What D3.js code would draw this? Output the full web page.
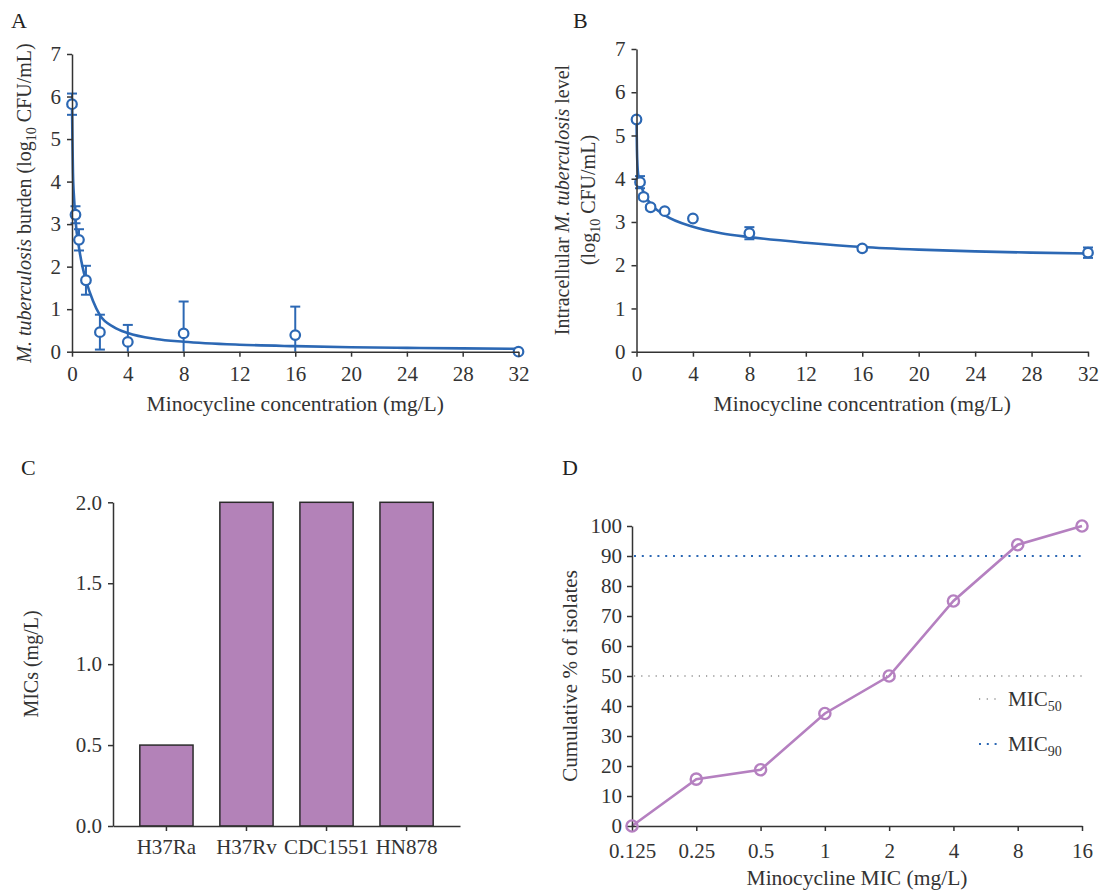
<!DOCTYPE html>
<html>
  <head>
    <meta charset="utf-8">
    <title>Minocycline activity against M. tuberculosis</title>
    <script src="https://cdn.jsdelivr.net/npm/d3@7"></script>
    <style>
      body { margin: 0; background: #fff; }
      svg { display: block; }
    </style>
  </head>
  <body>
    <svg></svg>
    <script>
      // panel A: extracellular burden
      let aConc = [0, 0.25, 0.5, 1, 2, 4, 8, 16, 32];
      let aMean = [5.82, 3.22, 2.63, 1.68, 0.46, 0.23, 0.43, 0.39, 0.0];
      let aSd   = [0.25, 0.20, 0.25, 0.34, 0.41, 0.40, 0.75, 0.67, 0];
      let aFitX = [0, 0.03, 0.07, 0.15, 0.25, 0.5, 0.75, 1, 1.5, 2, 3, 4, 6, 8, 12, 16, 20, 24, 28, 32];
      let aFitY = [5.85, 5.0, 4.2, 3.6, 3.1, 2.45, 2.0, 1.68, 1.2, 0.86, 0.58, 0.44, 0.3, 0.235, 0.165, 0.13, 0.105, 0.09, 0.078, 0.068];

      // panel B: intracellular level
      let bConc = [0, 0.25, 0.5, 1, 2, 4, 8, 16, 32];
      let bMean = [5.37, 3.92, 3.58, 3.34, 3.25, 3.08, 2.74, 2.39, 2.29];
      let bSd   = [0.03, 0.14, 0.06, 0.05, 0.03, 0.03, 0.14, 0.05, 0.12];
      let bFitX = [0, 0.03, 0.07, 0.12, 0.25, 0.5, 1, 2, 4, 6, 8, 12, 16, 20, 24, 28, 32];
      let bFitY = [5.38, 4.7, 4.3, 4.1, 3.93, 3.68, 3.42, 3.16, 2.89, 2.74, 2.65, 2.52, 2.42, 2.36, 2.32, 2.29, 2.27];

      // panel C: MICs of strains
      let strains = ["H37Ra", "H37Rv", "CDC1551", "HN878"];
      let strainMic = [0.5, 2, 2, 2];

      // panel D: cumulative distribution
      let micLevels = ["0.125", "0.25", "0.5", "1", "2", "4", "8", "16"];
      let cumPct = [0, 15.625, 18.75, 37.5, 50, 75, 93.75, 100];
      let micRefs = [50, 90];

      let font = `"Liberation Serif", "Times New Roman", serif`;
      let ink = "#333";
      let blue = "#2c68b4";
      let purple = "#b580c0";
      let barFill = "#b382b8";
      let fs = 21;

      let svg = d3.select("svg").attr("width", 1100).attr("height", 891)
                  .style("font-family", font);

      let styleAxis = g => {
        g.select(".domain").attr("stroke", ink).attr("stroke-width", 1.5);
        g.selectAll(".tick line").attr("stroke", ink).attr("stroke-width", 1.5);
        g.selectAll(".tick text").attr("fill", ink).attr("font-size", fs)
         .attr("font-family", font);
      };

      let panelLabel = (t, x, y) => {
        svg.append("text").attr("x", x).attr("y", y).attr("font-size", 22)
           .attr("fill", "#222").text(t);
      };

      // rich text helper: parts = [[text, style]] style: "i" italic, "sub" subscript
      let richText = (sel, parts) => {
        let shift = 0;
        parts.forEach(([t, s]) => {
          let ts = sel.append("tspan").text(t);
          if (s === "i") ts.attr("font-style", "italic");
          if (s === "sub") { ts.attr("font-size", 14).attr("dy", 5); shift = 5; }
          else if (shift) { ts.attr("dy", -shift); shift = 0; }
        });
      };

      function drawCurvePanel(opt) {
        let x = d3.scaleLinear().domain([0, 32]).range(opt.xr);
        let y = d3.scaleLinear().domain([0, 7]).range(opt.yr);
        let g = svg.append("g");

        let line = d3.line().x(d => x(d[0])).y(d => y(d[1])).curve(d3.curveMonotoneX);
        g.append("path")
         .datum(d3.zip(opt.fitX, opt.fitY))
         .attr("d", line)
         .attr("fill", "none").attr("stroke", blue).attr("stroke-width", 2.6);

        let pts = opt.conc.map((c, i) => ({c, m: opt.mean[i], sd: opt.sd[i]}));
        let err = g.selectAll(".err").data(pts.filter(d => d.sd > 0)).enter().append("g")
                   .attr("stroke", blue).attr("stroke-width", 2);
        err.append("line")
           .attr("x1", d => x(d.c)).attr("x2", d => x(d.c))
           .attr("y1", d => y(Math.max(0, d.m - d.sd))).attr("y2", d => y(d.m + d.sd));
        err.append("line")
           .attr("x1", d => x(d.c) - 5).attr("x2", d => x(d.c) + 5)
           .attr("y1", d => y(d.m + d.sd)).attr("y2", d => y(d.m + d.sd));
        err.filter(d => d.m - d.sd >= 0).append("line")
           .attr("x1", d => x(d.c) - 5).attr("x2", d => x(d.c) + 5)
           .attr("y1", d => y(d.m - d.sd)).attr("y2", d => y(d.m - d.sd));

        g.selectAll(".pt").data(pts).enter().append("circle")
         .attr("cx", d => x(d.c)).attr("cy", d => y(d.m)).attr("r", 4.8)
         .attr("fill", "#fff").attr("stroke", blue).attr("stroke-width", 2.2);

        g.append("g").attr("transform", `translate(0,${opt.yr[0]})`)
         .call(d3.axisBottom(x).tickValues(d3.range(0, 33, 4)).tickSize(5).tickPadding(9).tickSizeOuter(0))
         .call(styleAxis);
        g.append("g").attr("transform", `translate(${opt.xr[0]},0)`)
         .call(d3.axisLeft(y).ticks(7).tickSize(5).tickPadding(6).tickSizeOuter(0))
         .call(styleAxis);

        g.append("text").attr("x", (opt.xr[0] + opt.xr[1]) / 2).attr("y", 411)
         .attr("text-anchor", "middle").attr("font-size", 21.5).attr("fill", ink)
         .text("Minocycline concentration (mg/L)");
        return {x, y, g};
      }

      // ---- A
      panelLabel("A", 11, 28);
      drawCurvePanel({xr: [72, 518.5], yr: [351.7, 54], conc: aConc, mean: aMean, sd: aSd, fitX: aFitX, fitY: aFitY});
      let tA = svg.append("text").attr("transform", "translate(31,203) rotate(-90)")
                  .attr("text-anchor", "middle").attr("font-size", 20).attr("fill", ink);
      richText(tA, [["M. tuberculosis", "i"], [" burden (log"], ["10", "sub"], [" CFU/mL)"]]);

      // ---- B
      panelLabel("B", 573, 28);
      drawCurvePanel({xr: [636.5, 1088], yr: [351.7, 49], conc: bConc, mean: bMean, sd: bSd, fitX: bFitX, fitY: bFitY});
      let tB1 = svg.append("text").attr("transform", "translate(569,200) rotate(-90)")
                   .attr("text-anchor", "middle").attr("font-size", 20).attr("fill", ink);
      richText(tB1, [["Intracellular "], ["M. tuberculosis", "i"], [" level"]]);
      let tB2 = svg.append("text").attr("transform", "translate(595,200) rotate(-90)")
                   .attr("text-anchor", "middle").attr("font-size", 20).attr("fill", ink);
      richText(tB2, [["(log"], ["10", "sub"], [" CFU/mL)"]]);

      // ---- C
      panelLabel("C", 21, 475);
      let xC = d3.scaleBand().domain(strains).range([113, 460]).padding(0.335);
      let yC = d3.scaleLinear().domain([0, 2]).range([826, 502.3]);
      let gC = svg.append("g");
      gC.selectAll("rect").data(strains).enter().append("rect")
        .attr("x", d => xC(d)).attr("width", xC.bandwidth())
        .attr("y", (d, i) => yC(strainMic[i])).attr("height", (d, i) => yC(0) - yC(strainMic[i]))
        .attr("fill", barFill).attr("stroke", "#2b2b2b").attr("stroke-width", 1.5);
      gC.append("g").attr("transform", "translate(0,826)")
        .call(d3.axisBottom(xC).tickSize(5).tickPadding(8).tickSizeOuter(0))
        .call(styleAxis);
      gC.append("g").attr("transform", "translate(113,0)")
        .call(d3.axisLeft(yC).tickValues([0, 0.5, 1, 1.5, 2]).tickFormat(d3.format(".1f"))
                .tickSize(5).tickPadding(6).tickSizeOuter(0))
        .call(styleAxis);
      svg.append("text").attr("transform", "translate(38,664) rotate(-90)")
         .attr("text-anchor", "middle").attr("font-size", 20).attr("fill", ink)
         .text("MICs (mg/L)");

      // ---- D
      panelLabel("D", 562, 475);
      let xD = d3.scalePoint().domain(micLevels).range([632, 1082]);
      let yD = d3.scaleLinear().domain([0, 100]).range([826, 526]);
      let gD = svg.append("g");

      gD.append("line").attr("x1", 634).attr("x2", 1085)
        .attr("y1", yD(micRefs[0])).attr("y2", yD(micRefs[0]))
        .attr("stroke", "#555").attr("stroke-width", 1.2).attr("stroke-dasharray", "1.2 6");
      gD.append("line").attr("x1", 634).attr("x2", 1085)
        .attr("y1", yD(micRefs[1])).attr("y2", yD(micRefs[1]))
        .attr("stroke", blue).attr("stroke-width", 2).attr("stroke-dasharray", "2 5.8");

      let ptsD = micLevels.map((m, i) => [xD(m), yD(cumPct[i])]);
      gD.append("path").datum(ptsD).attr("d", d3.line())
        .attr("fill", "none").attr("stroke", purple).attr("stroke-width", 2.6);

      gD.append("g").attr("transform", "translate(0,826)")
        .call(d3.axisBottom(xD).tickSize(5).tickPadding(12).tickSizeOuter(0))
        .call(styleAxis);
      gD.append("g").attr("transform", "translate(632,0)")
        .call(d3.axisLeft(yD).tickValues(d3.range(0, 101, 10)).tickSize(5).tickPadding(5).tickSizeOuter(0))
        .call(styleAxis);

      gD.selectAll(".pt").data(ptsD).enter().append("circle")
        .attr("cx", d => d[0]).attr("cy", d => d[1]).attr("r", 5.6)
        .attr("fill", "none").attr("stroke", purple).attr("stroke-width", 2.4);

      svg.append("text").attr("transform", "translate(577,676) rotate(-90)")
         .attr("text-anchor", "middle").attr("font-size", 21).attr("fill", ink)
         .text("Cumulative % of isolates");
      svg.append("text").attr("x", 857).attr("y", 885)
         .attr("text-anchor", "middle").attr("font-size", 21.5).attr("fill", ink)
         .text("Minocycline MIC (mg/L)");

      // legend
      let legend = [
        {name: "50", y: 699, stroke: "#555", w: 1.2, dash: "1.2 6.5"},
        {name: "90", y: 744, stroke: blue, w: 2, dash: "2 5.8"}
      ];
      let lg = svg.append("g").selectAll("g").data(legend).enter().append("g");
      lg.append("line").attr("x1", 979).attr("x2", 999)
        .attr("y1", d => d.y).attr("y2", d => d.y)
        .attr("stroke", d => d.stroke).attr("stroke-width", d => d.w)
        .attr("stroke-dasharray", d => d.dash);
      lg.append("text").attr("x", 1008).attr("y", d => d.y + 7)
        .attr("font-size", fs).attr("fill", ink)
        .each(function(d) { richText(d3.select(this), [["MIC"], [d.name, "sub"]]); });
    </script>
  </body>
</html>
